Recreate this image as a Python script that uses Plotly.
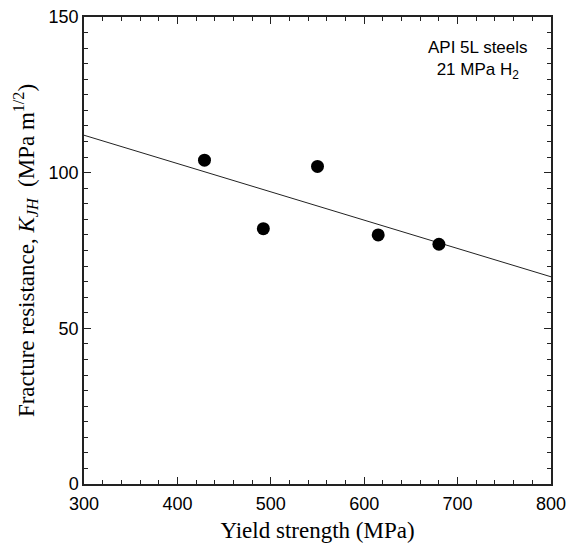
import numpy as np
import plotly.graph_objects as go

# Data
yield_strength = [429, 492, 550, 615, 680]          # MPa
fracture_resistance = [104, 82, 102, 80, 77]       # MPa m^1/2
fit_x_range = [300, 800]

# Least-squares trend line
slope, intercept = np.polyfit(yield_strength, fracture_resistance, 1)
fit_y = [slope * x + intercept for x in fit_x_range]

fig = go.Figure()
fig.add_trace(go.Scatter(x=fit_x_range, y=fit_y, mode="lines",
                         line=dict(color="#222222", width=1), showlegend=False,
                         hoverinfo="skip"))
fig.add_trace(go.Scatter(x=yield_strength, y=fracture_resistance, mode="markers",
                         marker=dict(color="black", size=13), showlegend=False))

axis_common = dict(
    showgrid=False, zeroline=False, showline=True, linecolor="#222222",
    linewidth=1.5, mirror="allticks", ticks="inside", ticklen=7, tickwidth=1.2,
    tickcolor="#222222", automargin=False,
    tickfont=dict(family="Liberation Sans, Arial", size=18, color="black"),
)

fig.update_layout(
    width=570, height=550,
    margin=dict(l=84, r=19, t=17, b=66),
    paper_bgcolor="white", plot_bgcolor="white",
    xaxis=dict(range=[300, 800], dtick=100, tick0=300, ticklabelstandoff=3,
               minor=dict(dtick=20, ticks="inside", ticklen=4, tickcolor="#222222", tickwidth=1),
               title=dict(text="Yield strength (MPa)", standoff=9,
                          font=dict(family="Liberation Serif, Times New Roman", size=23, color="black")),
               **axis_common),
    yaxis=dict(range=[0, 150], dtick=50, tick0=0,
               minor=dict(dtick=5, ticks="inside", ticklen=4, tickcolor="#222222", tickwidth=1),
               title=dict(text="Fracture resistance, <i>K</i><sub><i>JH</i></sub>  (MPa m<sup>1/2</sup>)",
                          standoff=8,
                          font=dict(family="Liberation Serif, Times New Roman", size=23, color="black")),
               **axis_common),
    annotations=[dict(text="API 5L steels<br>21 MPa H<sub>2</sub>", x=0.843, y=0.96,
                      xref="paper", yref="paper", showarrow=False, align="center",
                      xanchor="center", yanchor="top",
                      font=dict(family="Liberation Sans, Arial", size=17, color="black"))],
)

fig.write_html("out.html")
